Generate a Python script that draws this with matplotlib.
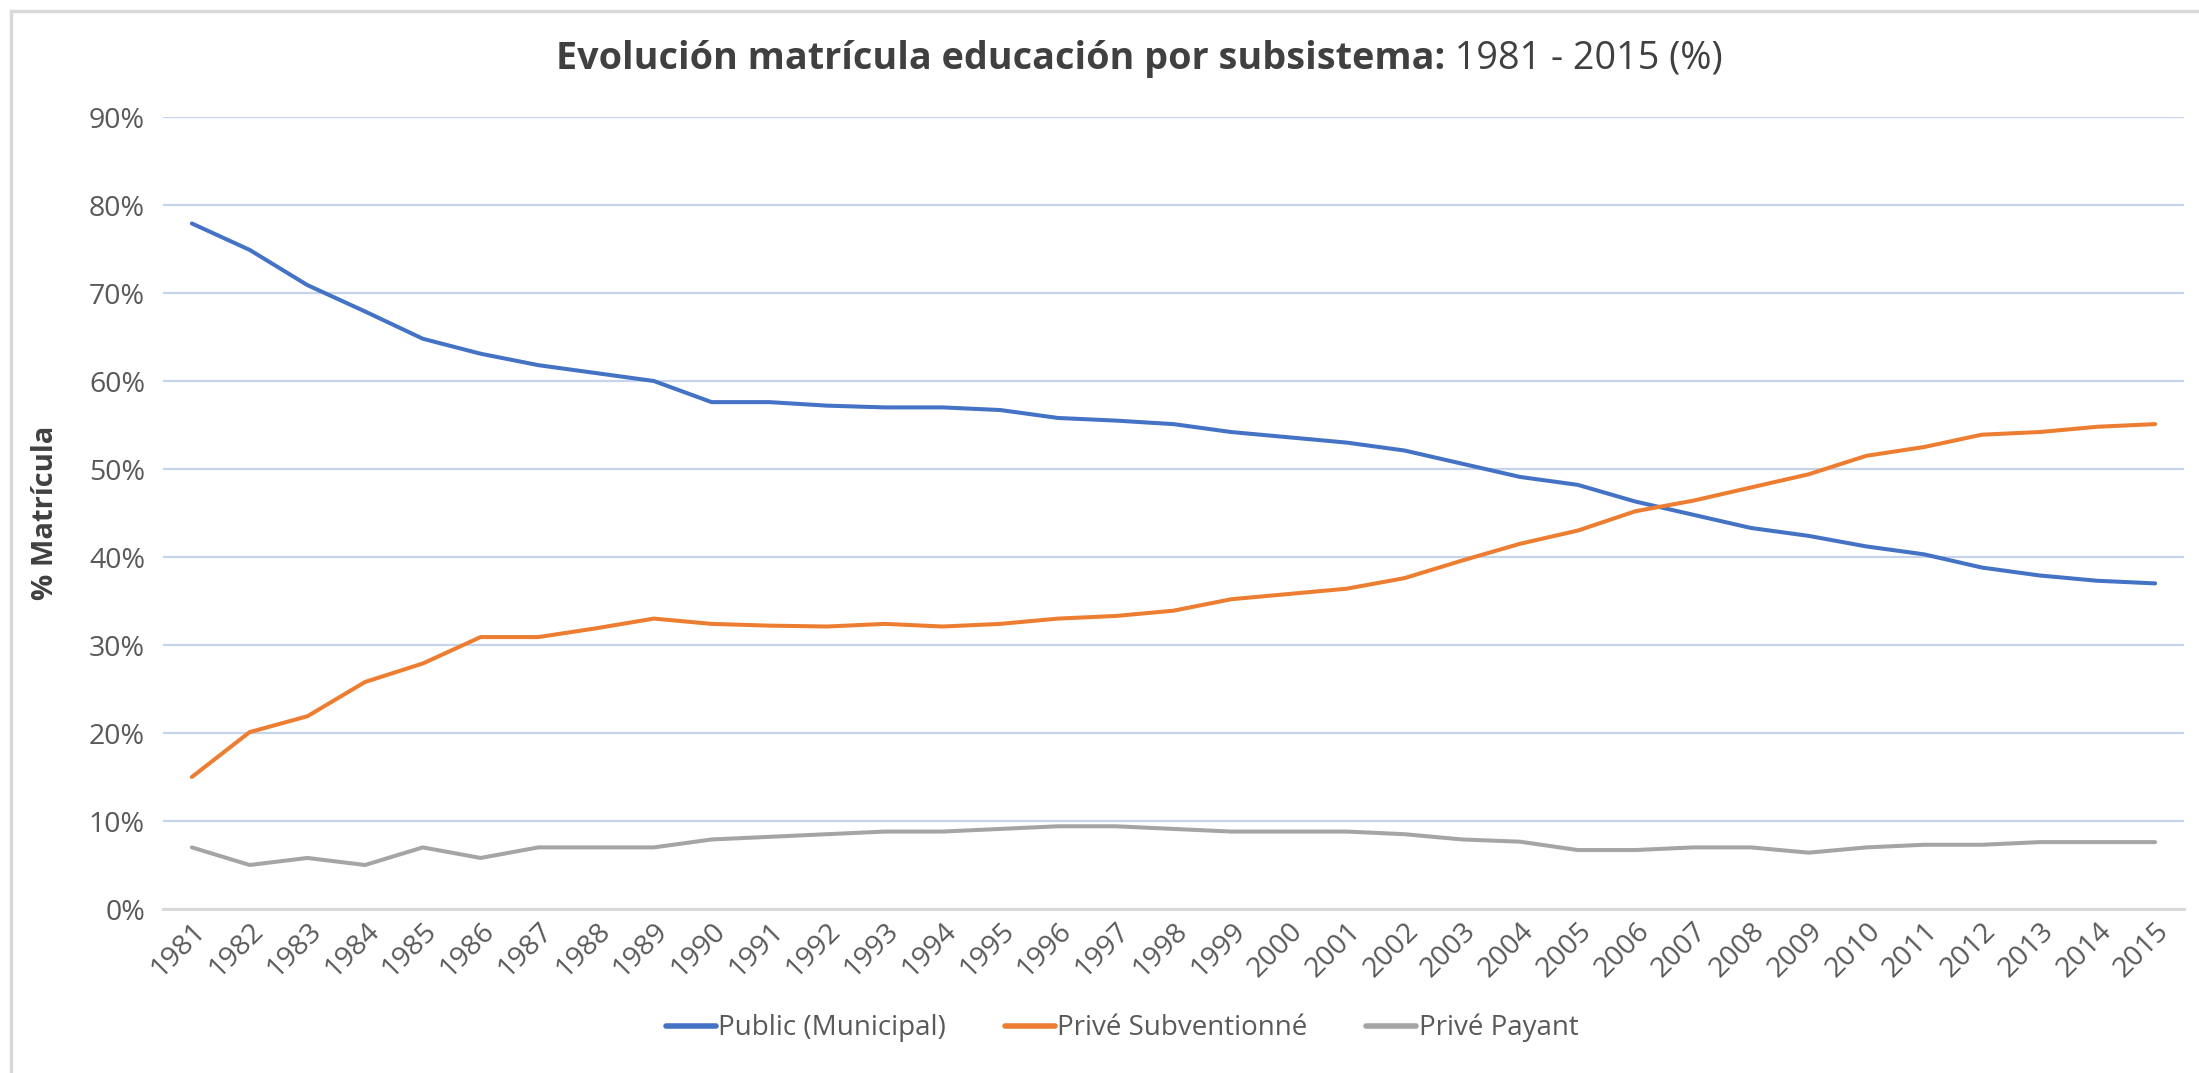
import matplotlib
matplotlib.use("Agg")
import matplotlib.pyplot as plt
from matplotlib.ticker import FuncFormatter, MultipleLocator
from matplotlib.patches import Rectangle

years = [str(y) for y in range(1981, 2016)]
public = [77.9, 74.9, 70.9, 67.9, 64.8, 63.1, 61.8, 60.9, 60.0, 57.6,
          57.6, 57.2, 57.0, 57.0, 56.7, 55.8, 55.5, 55.1, 54.2, 53.6,
          53.0, 52.1, 50.6, 49.1, 48.2, 46.3, 44.8, 43.3, 42.4, 41.2,
          40.3, 38.8, 37.9, 37.3, 37.0]
subv = [15.0, 20.1, 21.9, 25.8, 27.9, 30.9, 30.9, 31.9, 33.0, 32.4,
        32.2, 32.1, 32.4, 32.1, 32.4, 33.0, 33.3, 33.9, 35.2, 35.8,
        36.4, 37.6, 39.6, 41.5, 43.0, 45.2, 46.4, 47.9, 49.4, 51.5,
        52.5, 53.9, 54.2, 54.8, 55.1]
payant = [7.0, 5.0, 5.8, 5.0, 7.0, 5.8, 7.0, 7.0, 7.0, 7.9,
          8.2, 8.5, 8.8, 8.8, 9.1, 9.4, 9.4, 9.1, 8.8, 8.8,
          8.8, 8.5, 7.9, 7.65, 6.7, 6.7, 7.0, 7.0, 6.4, 7.0,
          7.3, 7.3, 7.6, 7.6, 7.6]
labels = ["Public (Municipal)", "Privé Subventionné", "Privé Payant"]
colors = ["#4472C4", "#ED7D31", "#A5A5A5"]

plt.rcParams['font.family'] = ['Open Sans', 'DejaVu Sans']

fig = plt.figure(figsize=(21.99, 10.73), dpi=100)
ax = fig.add_axes([163/2199, 1-909/1073, (2184-163)/2199, (909-117)/1073])

x = list(range(len(years)))
for series, lab, col in zip([public, subv, payant], labels, colors):
    ax.plot(x, series, color=col, lw=2.9, label=lab, solid_capstyle='round', zorder=3)

ax.set_xlim(-0.5, len(years) - 0.5)
ax.set_ylim(0, 90)
ax.yaxis.set_major_locator(MultipleLocator(10))
ax.yaxis.set_major_formatter(FuncFormatter(lambda v, p: f"{int(round(v))}%"))
ax.set_xticks(x)
ax.set_xticklabels(years, rotation=45, ha='right', rotation_mode='anchor')

ax.grid(axis='y', color='#C5D3EB', lw=1.6, zorder=0)
ax.set_axisbelow(True)
for s in ['top', 'right', 'left']:
    ax.spines[s].set_visible(False)
ax.spines['bottom'].set_color('#D9D9D9')
ax.spines['bottom'].set_linewidth(2.2)
ax.tick_params(axis='both', length=0, labelsize=20.5, colors='#595959')
ax.tick_params(axis='y', pad=13)
ax.tick_params(axis='x', pad=6)

ax.set_ylabel("% Matrícula", fontsize=21, fontweight='bold', color='#404040',
              family=['Liberation Sans Narrow', 'Open Sans', 'DejaVu Sans'])
ax.yaxis.set_label_coords((60 - 163) / (2184 - 163), 0.5)

yt = 1 - 59/1073
t1 = fig.text(0.0, yt, "Evolución matrícula educación por subsistema:", ha='left', va='center',
              fontsize=27.2, fontweight='bold', color='#404040')
t2 = fig.text(0.0, yt, " 1981 - 2015 (%)", ha='left', va='center',
              fontsize=27.2, color='#404040')
fig.canvas.draw()
r = fig.canvas.get_renderer()
w1 = t1.get_window_extent(r).width / fig.bbox.width
w2 = t2.get_window_extent(r).width / fig.bbox.width
start = 1139/2199 - (w1 + w2) / 2
t1.set_x(start)
t2.set_x(start + w1)

leg = fig.legend(loc='center', bbox_to_anchor=(1122/2199, 1-1028/1073), ncol=3, frameon=False,
                 fontsize=20, handlelength=1.8, handletextpad=0.1, columnspacing=2.1)
for txt in leg.get_texts():
    txt.set_color('#595959')
for h in leg.legend_handles:
    h.set_linewidth(4)

fig.patches.append(Rectangle((11/2199, -0.05), 1.2, 1 - 11/1073 + 0.05, transform=fig.transFigure,
                             fill=False, edgecolor='#D9D9D9', lw=2.5))

fig.savefig("out.png", dpi=100, facecolor='white')
